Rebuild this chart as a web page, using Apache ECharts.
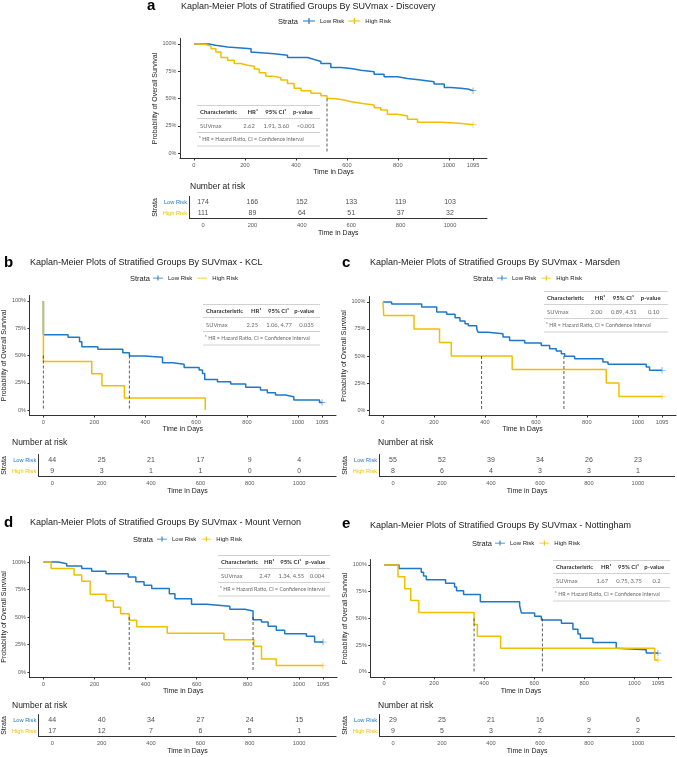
<!DOCTYPE html>
<html>
<head>
<meta charset="utf-8">
<script src="https://cdn.jsdelivr.net/npm/echarts@6/dist/echarts.min.js"></script>
<style>html,body{margin:0;padding:0;background:#fff}#chart{width:677px;height:757px}</style>
</head>
<body>
<div id="chart"></div>
<script>
// ticks / categories
const xTicks = [0, 200, 400, 600, 800, 1000, 1095];
const yTicks = [0, 0.25, 0.5, 0.75, 1];
const riskTimes = [0, 200, 400, 600, 800, 1000];
const strata = ['High Risk', 'Low Risk'];
const hrHeader = ['Characteristic', 'HR¹', '95% CI¹', 'p-value'];
const hrFootnote = '¹ HR = Hazard Ratio, CI = Confidence Interval';

// a - Discovery
const discoveryLow = [[0,1],[60,0.988],[85,0.973],[132,0.957],[224,0.925],[237,0.91],[315,0.897],[367,0.875],[446,0.857],[472,0.84],[498,0.82],[537,0.785],[576,0.775],[616,0.76],[655,0.745],[707,0.723],[746,0.70],[799,0.684],[838,0.669],[890,0.653],[942,0.632],[982,0.60],[1008,0.593],[1047,0.584],[1080,0.572],[1095,0.572]];
const discoveryHigh = [[0,1],[21,0.994],[47,0.98],[67,0.957],[86,0.927],[106,0.875],[132,0.85],[158,0.82],[184,0.805],[210,0.796],[237,0.77],[256,0.736],[282,0.705],[308,0.69],[341,0.669],[367,0.638],[393,0.593],[420,0.571],[459,0.547],[498,0.526],[522,0.5],[550,0.486],[590,0.471],[616,0.456],[655,0.44],[707,0.416],[733,0.395],[759,0.356],[799,0.34],[838,0.31],[877,0.283],[969,0.273],[1041,0.26],[1095,0.26]];
const discoveryRiskLow = [174, 166, 152, 133, 119, 103];
const discoveryRiskHigh = [111, 89, 64, 51, 37, 32];
const discoveryMedians = [522];
const discoveryHR = ['SUVmax', '2.62', '1.91, 3.60', '<0.001'];

// b - KCL
const kclLow = [[0,1],[0,0.69],[97,0.667],[142,0.627],[151,0.58],[214,0.557],[312,0.526],[338,0.495],[397,0.483],[468,0.434],[508,0.419],[553,0.391],[612,0.367],[625,0.336],[634,0.28],[684,0.26],[736,0.239],[795,0.208],[853,0.183],[880,0.159],[912,0.138],[951,0.122],[984,0.092],[1085,0.07],[1095,0.07]];
const kclHigh = [[0,1],[0,0.444],[190,0.333],[230,0.222],[318,0.111],[636,0]];
const kclRiskLow = [44, 25, 21, 17, 9, 4];
const kclRiskHigh = [9, 3, 1, 1, 0, 0];
const kclMedians = [0, 338];
const kclHR = ['SUVmax', '2.25', '1.06, 4.77', '0.035'];

// c - Marsden
const marsdenLow = [[0,1],[34,0.98],[152,0.952],[211,0.906],[250,0.885],[283,0.854],[302,0.823],[322,0.799],[335,0.78],[368,0.753],[373,0.72],[412,0.706],[471,0.675],[497,0.644],[556,0.62],[621,0.598],[654,0.567],[680,0.546],[700,0.521],[713,0.497],[752,0.475],[863,0.445],[883,0.423],[1033,0.399],[1046,0.368],[1095,0.368]];
const marsdenHigh = [[0,1],[3,0.875],[122,0.75],[222,0.625],[268,0.5],[507,0.375],[876,0.25],[926,0.125],[1095,0.125]];
const marsdenRiskLow = [55, 52, 39, 34, 26, 23];
const marsdenRiskHigh = [8, 6, 4, 3, 3, 1];
const marsdenMedians = [387, 710];
const marsdenHR = ['SUVmax', '2.00', '0.89, 4.51', '0.10'];

// d - Mount Vernon
const vernonLow = [[0,1],[59,0.985],[91,0.964],[150,0.94],[189,0.916],[245,0.894],[332,0.864],[362,0.82],[394,0.788],[424,0.758],[493,0.712],[515,0.667],[580,0.615],[639,0.597],[730,0.57],[789,0.555],[821,0.476],[854,0.455],[880,0.415],[912,0.379],[945,0.348],[1030,0.324],[1062,0.273],[1095,0.273]];
const vernonHigh = [[0,1],[30,0.941],[120,0.882],[150,0.824],[183,0.706],[245,0.647],[274,0.588],[302,0.529],[336,0.471],[365,0.412],[485,0.353],[707,0.294],[824,0.235],[854,0.118],[912,0.059],[1095,0.059]];
const vernonRiskLow = [44, 40, 34, 27, 24, 15];
const vernonRiskHigh = [17, 12, 7, 6, 5, 1];
const vernonMedians = [336, 821];
const vernonHR = ['SUVmax', '2.47', '1.34, 4.55', '0.004'];

// e - Nottingham
const nottinghamLow = [[0,1],[60,0.966],[149,0.931],[158,0.897],[169,0.862],[246,0.828],[282,0.793],[290,0.759],[318,0.724],[385,0.655],[542,0.62],[549,0.552],[602,0.52],[629,0.485],[709,0.454],[755,0.398],[775,0.355],[785,0.315],[835,0.275],[928,0.222],[935,0.207],[1048,0.176],[1095,0.176]];
const nottinghamHigh = [[0,1],[56,0.889],[83,0.778],[107,0.667],[139,0.556],[360,0.444],[373,0.333],[466,0.222],[1082,0.111],[1095,0.111]];
const nottinghamRiskLow = [29, 25, 21, 16, 9, 6];
const nottinghamRiskHigh = [9, 5, 3, 2, 2, 2];
const nottinghamMedians = [360, 633];
const nottinghamHR = ['SUVmax', '1.67', '0.75, 3.75', '0.2'];

const BLUE = '#1f78c8', YELLOW = '#efc000', INK = '#222', GREY = '#5a5a5a', AX = '#333';
const FONT = '"Liberation Sans", Arial, sans-serif';
const TFONT = 'Lato, "Open Sans", sans-serif';
const X_MIN = -54.75, X_MAX = 1149.75;
const PLUS = 'path://M0,3.4H16V4.6H0Z M7.2,0H8.8V8H7.2Z';
const LINE = 'path://M0,3.4H16V4.6H0Z M8,0H8.01V8H8Z';
const CENSOR = 'path://M0,4.5H10V5.5H0Z M4.5,0H5.5V10H4.5Z';

const panels = [
  {letter: 'a', title: 'Kaplan-Meier Plots of Stratified Groups By SUVmax - Discovery',
   low: discoveryLow, high: discoveryHigh, riskLow: discoveryRiskLow, riskHigh: discoveryRiskHigh,
   medians: discoveryMedians, hr: discoveryHR, highCensor: true,
   letterPos: [147, 6], titlePos: [181, 7], strataPos: [278, 22], legendPos: [303, 22], iconW: 12, legGap: 4,
   plot: [180, 38.5, 307, 120], hrBox: [197, 112, 123], narPos: [190, 187], table: [189.5, 196.5, 297.5, 22]},
  {letter: 'b', title: 'Kaplan-Meier Plots of Stratified Groups By SUVmax - KCL',
   low: kclLow, high: kclHigh, riskLow: kclRiskLow, riskHigh: kclRiskHigh,
   medians: kclMedians, hr: kclHR, highCensor: false,
   letterPos: [4, 263], titlePos: [30, 263], strataPos: [130, 279], legendPos: [153, 279], iconW: 10, legGap: 5,
   plot: [28, 295.5, 308, 120], hrBox: [203, 311, 117], narPos: [12, 443], table: [37.4, 454.5, 298.7, 22]},
  {letter: 'c', title: 'Kaplan-Meier Plots of Stratified Groups By SUVmax - Marsden',
   low: marsdenLow, high: marsdenHigh, riskLow: marsdenRiskLow, riskHigh: marsdenRiskHigh,
   medians: marsdenMedians, hr: marsdenHR, highCensor: true,
   letterPos: [342, 263], titlePos: [370, 263], strataPos: [473, 279], legendPos: [497, 279], iconW: 10, legGap: 5,
   plot: [369, 296.5, 307, 119], hrBox: [544, 298, 124], narPos: [378, 443], table: [379.6, 454.5, 295, 22]},
  {letter: 'd', title: 'Kaplan-Meier Plots of Stratified Groups By SUVmax - Mount Vernon',
   low: vernonLow, high: vernonHigh, riskLow: vernonRiskLow, riskHigh: vernonRiskHigh,
   medians: vernonMedians, hr: vernonHR, highCensor: true,
   letterPos: [4, 523], titlePos: [30, 523], strataPos: [133, 540], legendPos: [157, 540], iconW: 10, legGap: 5,
   plot: [29, 556.5, 308, 121], hrBox: [218, 562, 112], narPos: [12, 706], table: [37.4, 714.5, 298.7, 22]},
  {letter: 'e', title: 'Kaplan-Meier Plots of Stratified Groups By SUVmax - Nottingham',
   low: nottinghamLow, high: nottinghamHigh, riskLow: nottinghamRiskLow, riskHigh: nottinghamRiskHigh,
   medians: nottinghamMedians, hr: nottinghamHR, highCensor: true,
   letterPos: [342, 524], titlePos: [370, 526], strataPos: [472, 544], legendPos: [495, 544], iconW: 10, legGap: 5,
   plot: [370.3, 559.6, 301.4, 117.7], hrBox: [553, 567, 117], narPos: [378, 706], table: [379.6, 714.5, 295, 22]}
];

const grid = [], xAxis = [], yAxis = [], series = [], legend = [], graphic = [];

function txt(x, y, text, size, extra) {
  graphic.push({type: 'text', x: x, y: y, silent: true,
    style: Object.assign({text: text, fontSize: size, fill: INK, fontFamily: FONT, verticalAlign: 'middle'}, extra || {})});
}

function hrTable(p) {
  const [x, y, w] = p.hrBox;
  [-6.5, 6.5, 20.5, 34].forEach(d => graphic.push({type: 'line', silent: true,
    shape: {x1: x, y1: y + d, x2: x + w, y2: y + d}, style: {stroke: '#d2d2d2', lineWidth: 1}}));
  const head = {fontFamily: TFONT, fontWeight: 'bold', fill: '#333'};
  const row = {fontFamily: TFONT, fill: '#6a6a6a'};
  txt(x + 3, y, hrHeader[0], 6, head);
  txt(x + 0.41 * w, y, hrHeader[1], 6, head);
  txt(x + 0.555 * w, y, hrHeader[2], 6, head);
  txt(x + 0.78 * w, y, hrHeader[3], 6, head);
  txt(x + 3, y + 14, p.hr[0], 5.8, row);
  txt(x + 0.47 * w, y + 14, p.hr[1], 5.8, Object.assign({align: 'right'}, row));
  txt(x + 0.54 * w, y + 14, p.hr[2], 5.8, row);
  txt(x + 0.885 * w, y + 14, p.hr[3], 5.8, Object.assign({align: 'center'}, row));
  txt(x + 2, y + 27.5, hrFootnote, 5.3, row);
}

const plain = v => String(v);

panels.forEach((p, i) => {
  const gp = i * 2, gt = i * 2 + 1;
  grid.push({left: p.plot[0], top: p.plot[1], width: p.plot[2], height: p.plot[3]});
  grid.push({left: p.table[0], top: p.table[1], width: p.table[2], height: p.table[3]});

  const axLine = {show: true, onZero: false, lineStyle: {color: AX, width: 1}};
  const nameStyle = {fontSize: 7, color: INK, fontFamily: FONT};
  xAxis.push({gridIndex: gp, type: 'value', min: X_MIN, max: X_MAX,
    name: 'Time in Days', nameLocation: 'middle', nameGap: 10, nameTextStyle: nameStyle,
    axisLine: axLine, splitLine: {show: false},
    axisTick: {customValues: xTicks, length: 2, lineStyle: {color: AX}},
    axisLabel: {customValues: xTicks, fontSize: 5.7, color: GREY, margin: 3.5, fontFamily: FONT, formatter: plain}});
  xAxis.push({gridIndex: gt, type: 'value', min: X_MIN, max: X_MAX,
    name: 'Time in Days', nameLocation: 'middle', nameGap: 11.5, nameTextStyle: nameStyle,
    axisLine: axLine, splitLine: {show: false},
    axisTick: {customValues: riskTimes, length: 2, lineStyle: {color: AX}},
    axisLabel: {customValues: riskTimes, fontSize: 5.7, color: GREY, margin: 3.5, fontFamily: FONT, formatter: plain}});
  yAxis.push({gridIndex: gp, type: 'value', min: -0.05, max: 1.05,
    name: 'Probability of Overall Survival', nameLocation: 'middle', nameRotate: 90, nameGap: 18.5,
    nameTextStyle: nameStyle, axisLine: axLine, splitLine: {show: false},
    axisTick: {customValues: yTicks, length: 2, lineStyle: {color: AX}},
    axisLabel: {customValues: yTicks, fontSize: 5.5, color: GREY, margin: 3.5, fontFamily: FONT,
      formatter: v => Math.round(v * 100) + '%'}});
  yAxis.push({gridIndex: gt, type: 'category', data: strata,
    name: 'Strata', nameLocation: 'middle', nameRotate: 90, nameGap: i === 0 ? 31 : 27,
    nameTextStyle: nameStyle, axisLine: axLine,
    axisTick: {alignWithLabel: true, length: 2, lineStyle: {color: AX}},
    axisLabel: {fontSize: 5.7, margin: 2.5, fontFamily: FONT,
      color: v => (v === 'Low Risk' ? BLUE : YELLOW)}});

  [[p.low, 'Low Risk', BLUE, true], [p.high, 'High Risk', YELLOW, p.highCensor]].forEach(([d, name, col, cens]) => {
    series.push({type: 'line', name: name, xAxisIndex: gp, yAxisIndex: gp, data: d, step: 'end',
      symbol: 'none', showSymbol: false, silent: true, color: col,
      lineStyle: {color: col, width: 1.5}});
    if (cens) {
      series.push({type: 'scatter', xAxisIndex: gp, yAxisIndex: gp, data: [d[d.length - 1]],
        symbol: CENSOR, symbolSize: 6.5, silent: true, itemStyle: {color: col}});
    }
  });
  p.medians.forEach(m => {
    series.push({type: 'line', xAxisIndex: gp, yAxisIndex: gp, data: [[m, 0.5], [m, 0]],
      symbol: 'none', silent: true, z: 5, lineStyle: {color: AX, width: 0.8, type: [3, 2]}});
  });

  const rows = riskTimes.map((t, k) => [t, 'Low Risk', p.riskLow[k]])
    .concat(riskTimes.map((t, k) => [t, 'High Risk', p.riskHigh[k]]));
  series.push({type: 'scatter', xAxisIndex: gt, yAxisIndex: gt, data: rows, symbolSize: 0, silent: true,
    label: {show: true, position: 'inside', formatter: q => q.value[2], fontSize: 7, color: INK, fontFamily: FONT}});

  legend.push({left: p.legendPos[0], top: p.legendPos[1] - 4, itemWidth: p.iconW, itemHeight: p.iconW / 2,
    itemGap: p.legGap, selectedMode: false, padding: 0,
    itemStyle: {borderWidth: 0}, textStyle: {fontSize: 6, color: INK, fontFamily: FONT},
    data: [{name: 'Low Risk', icon: PLUS}, {name: 'High Risk', icon: p.highCensor ? PLUS : LINE}]});

  txt(p.letterPos[0], p.letterPos[1], p.letter, 15, {fontWeight: 'bold', fill: '#000'});
  txt(p.titlePos[0], p.titlePos[1], p.title, 9);
  txt(p.strataPos[0], p.strataPos[1], 'Strata', 7.5);
  txt(p.narPos[0], p.narPos[1], 'Number at risk', 8.5);
  hrTable(p);
});

const chart = echarts.init(document.getElementById('chart'), null, {renderer: 'canvas'});
chart.setOption({
  animation: false,
  backgroundColor: '#fff',
  grid: grid, xAxis: xAxis, yAxis: yAxis, series: series, legend: legend, graphic: graphic
});
</script>
</body>
</html>
